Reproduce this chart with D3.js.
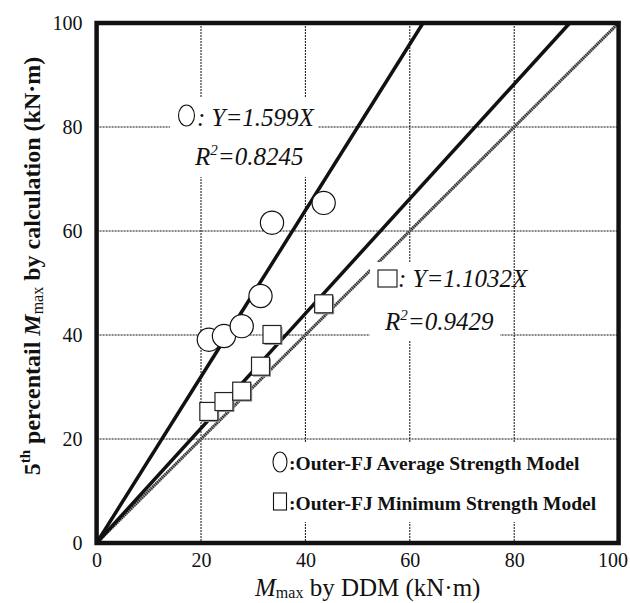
<!DOCTYPE html>
<html><head><meta charset="utf-8">
<script src="https://cdn.jsdelivr.net/npm/d3@7"></script>
<style>body{margin:0;background:#fff}svg{display:block}</style>
</head><body>
<svg id="c" width="630" height="603"></svg>
<script>
// ---- data ----
const ddm = [21.5, 24.4, 27.8, 31.4, 33.6, 43.5];          // Mmax by DDM
const avgModel = [39.1, 39.8, 41.7, 47.5, 61.6, 65.4];     // Outer-FJ Average Strength Model
const minModel = [25.3, 27.2, 29.2, 34.0, 40.1, 46.0];     // Outer-FJ Minimum Strength Model
const avgSlope = 1.599, avgR2 = "0.8245";
const minSlope = 1.1032, minR2 = "0.9429";
const ticks = [0, 20, 40, 60, 80, 100];
const legendLabels = [":Outer-FJ Average Strength Model", ":Outer-FJ Minimum Strength Model"];

const svg = d3.select("#c");
const X0 = 96.6, X1 = 618.6, Y0 = 543, Y1 = 23;
const x = d3.scaleLinear().domain([0, 100]).range([X0, X1]);
const y = d3.scaleLinear().domain([0, 100]).range([Y0, Y1]);
const serif = "'Liberation Serif','Times New Roman',serif";

svg.append("rect").attr("width", 630).attr("height", 603).attr("fill", "#fff");

// grid
const g = svg.append("g");
g.selectAll(".vg").data(ticks.slice(1, -1)).join("line")
  .attr("x1", d => x(d)).attr("x2", d => x(d)).attr("y1", Y1).attr("y2", Y0)
  .attr("stroke", "#111").attr("stroke-width", 1).attr("stroke-dasharray", "2,1");
g.selectAll(".hg").data(ticks.slice(1, -1)).join("line")
  .attr("y1", d => y(d)).attr("y2", d => y(d)).attr("x1", X0).attr("x2", X1)
  .attr("stroke", "#111").attr("stroke-width", 1).attr("stroke-dasharray", "2,1");

// 1:1 line
svg.append("line").attr("x1", x(0)).attr("y1", y(0)).attr("x2", x(100)).attr("y2", y(100))
  .attr("stroke", "#999").attr("stroke-width", 3);
svg.append("line").attr("x1", x(0)).attr("y1", y(0)).attr("x2", x(100)).attr("y2", y(100))
  .attr("stroke", "#222").attr("stroke-width", 3).attr("stroke-dasharray", "1,1.2");

// white boxes behind labels
[[170, 97, 148, 80], [370, 262, 130, 78], [268, 442, 330, 80]].forEach(b => {
  svg.append("rect").attr("x", b[0]).attr("y", b[1]).attr("width", b[2]).attr("height", b[3]).attr("fill", "#fff");
});

// regression lines
const line = d3.line().x(d => x(d[0])).y(d => y(d[1]));
[avgSlope, minSlope].forEach(s => {
  svg.append("path").attr("d", line([[0, 0], [100 / s, 100]]))
    .attr("fill", "none").attr("stroke", "#111").attr("stroke-width", 3.5);
});

// markers
svg.selectAll(".circ").data(ddm.map((d, i) => [d, avgModel[i]])).join("circle")
  .attr("cx", d => x(d[0])).attr("cy", d => y(d[1])).attr("r", 11.6)
  .attr("fill", "#fff").attr("stroke", "#111").attr("stroke-width", 1.2);
const sq = 18;
svg.selectAll(".sqs").data(ddm.map((d, i) => [d, minModel[i]])).join("rect")
  .attr("x", d => x(d[0]) - sq / 2 + 1.5).attr("y", d => y(d[1]) - sq / 2 + 1.5)
  .attr("width", sq).attr("height", sq).attr("fill", "#999");
svg.selectAll(".sq").data(ddm.map((d, i) => [d, minModel[i]])).join("rect")
  .attr("x", d => x(d[0]) - sq / 2).attr("y", d => y(d[1]) - sq / 2)
  .attr("width", sq).attr("height", sq)
  .attr("fill", "#fff").attr("stroke", "#222").attr("stroke-width", 1.2);

// border
svg.append("rect").attr("x", X0).attr("y", Y1).attr("width", X1 - X0).attr("height", Y0 - Y1)
  .attr("fill", "none").attr("stroke", "#111").attr("stroke-width", 4.5);

// axes tick labels
const yAxis = d3.axisLeft(y).tickValues(ticks).tickSize(0).tickPadding(14);
const ya = svg.append("g").attr("transform", `translate(${X0},0)`).call(yAxis);
ya.select(".domain").remove();
ya.selectAll("text").attr("font-family", serif).attr("font-size", 20).attr("fill", "#111");
const xAxis = d3.axisBottom(x).tickValues(ticks).tickSize(0).tickPadding(10);
const xa = svg.append("g").attr("transform", `translate(0,${Y0})`).call(xAxis);
xa.select(".domain").remove();
xa.selectAll("text").attr("font-family", serif).attr("font-size", 20).attr("fill", "#111")
  .attr("dx", d => d === 100 ? -6 : 0);

// annotations
function ann(sym, sx, sy, eqX, eqY, eqText, rX, rY, r2) {
  if (sym === "c") svg.append("ellipse").attr("cx", sx).attr("cy", sy).attr("rx", 8).attr("ry", 10.5)
    .attr("fill", "none").attr("stroke", "#111").attr("stroke-width", 1.1);
  else svg.append("rect").attr("x", sx - 9.5).attr("y", sy - 8.5).attr("width", 19).attr("height", 17)
    .attr("fill", "none").attr("stroke", "#111").attr("stroke-width", 1.1);
  svg.append("text").attr("x", eqX).attr("y", eqY).attr("font-family", serif).attr("font-style", "italic")
    .attr("font-size", 25).attr("fill", "#111").text(eqText);
  const t = svg.append("text").attr("x", rX).attr("y", rY).attr("font-family", serif).attr("font-style", "italic")
    .attr("font-size", 25).attr("fill", "#111");
  t.append("tspan").text("R");
  t.append("tspan").attr("font-size", 15).attr("dy", -10).text("2");
  t.append("tspan").attr("dy", 10).text("=" + r2);
}
ann("c", 186.5, 115.5, 197, 126, ": Y=" + avgSlope + "X", 195, 165, avgR2);
ann("s", 387.5, 278.5, 398, 287, ": Y=" + minSlope + "X", 385, 330, minR2);

// legend
svg.append("ellipse").attr("cx", 280).attr("cy", 462).attr("rx", 7).attr("ry", 10)
  .attr("fill", "none").attr("stroke", "#111").attr("stroke-width", 1.1);
svg.append("rect").attr("x", 273.5).attr("y", 493).attr("width", 13).attr("height", 17)
  .attr("fill", "none").attr("stroke", "#111").attr("stroke-width", 1.1);
legendLabels.forEach((l, i) => {
  svg.append("text").attr("x", 289).attr("y", 470 + i * 40).attr("font-family", serif)
    .attr("font-weight", "bold").attr("font-size", 19.5).attr("fill", "#111").text(l);
});

// axis titles
const xt = svg.append("text").attr("x", 255).attr("y", 596).attr("font-family", serif)
  .attr("font-size", 25).attr("fill", "#111");
xt.append("tspan").attr("font-style", "italic").text("M");
xt.append("tspan").attr("font-size", 16).attr("dy", 2).text("max");
xt.append("tspan").attr("dy", -2).text(" by DDM (kN\u00b7m)");

const yt = svg.append("text").attr("transform", "translate(40,266) rotate(-90)").attr("text-anchor", "middle")
  .attr("font-family", serif).attr("font-weight", "bold").attr("font-size", 24).attr("fill", "#111");
yt.append("tspan").text("5");
yt.append("tspan").attr("font-size", 15).attr("dy", -10).text("th");
yt.append("tspan").attr("dy", 10).text(" percentail ");
yt.append("tspan").attr("font-style", "italic").text("M");
yt.append("tspan").attr("font-size", 16).attr("font-weight", "normal").attr("dy", 3).text("max");
yt.append("tspan").attr("dy", -3).text(" by calculation (kN\u00b7m)");
</script>
</body></html>
